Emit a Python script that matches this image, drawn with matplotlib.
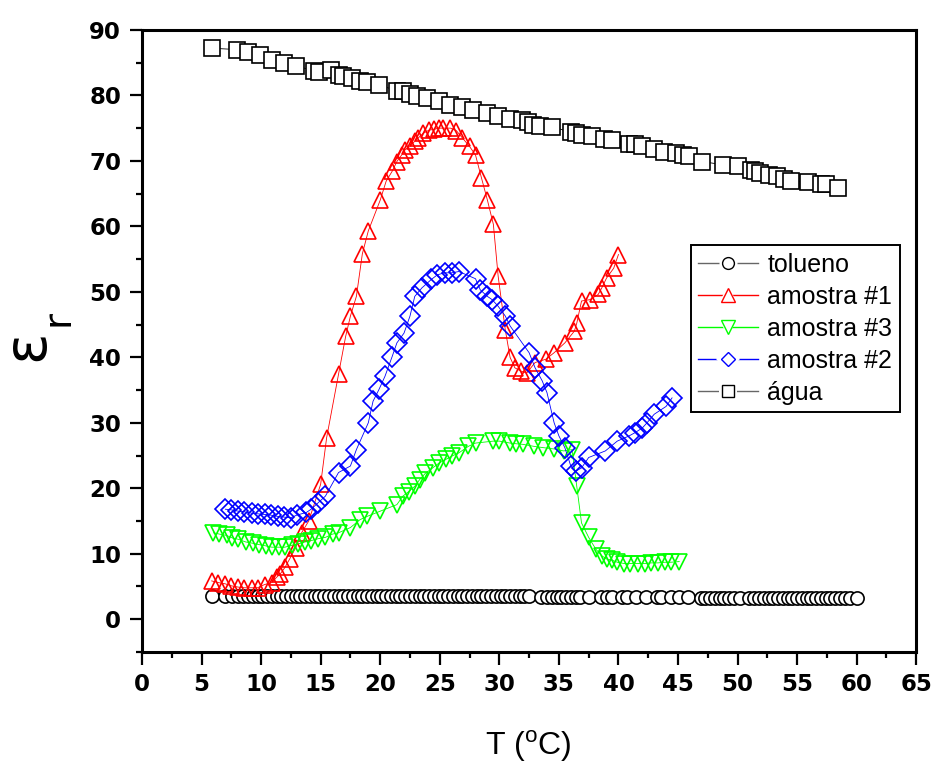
import matplotlib
matplotlib.use("Agg")
import matplotlib.pyplot as plt
from matplotlib.ticker import MultipleLocator
from matplotlib.lines import Line2D
from matplotlib.legend_handler import HandlerTuple

plt.rcParams['font.family'] = ['Liberation Sans', 'DejaVu Sans']
plt.rcParams['mathtext.fontset'] = 'custom'
plt.rcParams['mathtext.rm'] = 'Liberation Sans'

# ---- data ----
agua_T = [5.9, 7.96, 8.9, 9.9, 10.9, 11.9, 12.9, 14.4, 14.9, 15.9, 16.5, 16.9, 17.6, 18.3,
          18.9, 19.9, 21.4, 21.9, 22.5, 23.1, 23.9, 24.9, 25.9, 26.9, 27.8, 29.0, 29.9,
          30.9, 31.9, 32.4, 32.8, 33.4, 34.4, 36.0, 36.4, 36.9, 37.8, 38.8, 39.5, 40.9,
          41.4, 42.0, 43.0, 43.8, 44.8, 45.4, 45.9, 47.0, 48.8, 50.0, 51.1, 51.5, 51.9,
          52.6, 53.3, 53.9, 54.5, 55.9, 57.0, 57.4, 58.4]
agua_e = [87.2, 87.0, 86.7, 86.1, 85.4, 85.0, 84.5, 83.8, 83.5, 83.9, 83.1, 82.9, 82.6, 82.2,
          82.0, 81.6, 80.7, 80.6, 80.2, 79.9, 79.6, 79.1, 78.6, 78.2, 77.8, 77.3, 76.8,
          76.4, 76.2, 76.0, 75.5, 75.3, 75.2, 74.4, 74.3, 74.0, 73.8, 73.4, 73.2, 72.6,
          72.5, 72.3, 71.8, 71.4, 71.2, 70.9, 70.8, 69.9, 69.4, 69.2, 68.6, 68.4, 68.1,
          67.9, 67.7, 67.2, 67.0, 66.7, 66.5, 66.4, 65.9]

tol_T = [5.9, 7.0, 7.6, 8.1, 8.5, 8.9, 9.3, 9.7, 10.1, 10.5, 10.9, 11.3, 11.7, 12.1, 12.5,
         12.9, 13.3, 13.7, 14.1, 14.5, 14.9, 15.3, 15.7, 16.1, 16.5, 16.9, 17.3, 17.7,
         18.1, 18.5, 18.9, 19.3, 19.7, 20.1, 20.5, 20.9, 21.3, 21.7, 22.1, 22.5, 22.9,
         23.3, 23.7, 24.1, 24.5, 24.9, 25.3, 25.7, 26.1, 26.5, 26.9, 27.3, 27.7, 28.1,
         28.5, 28.9, 29.3, 29.7, 30.1, 30.5, 30.9, 31.3, 31.7, 32.1, 32.5, 33.5, 34.0,
         34.4, 34.8, 35.2, 35.6, 36.0, 36.4, 36.8, 37.5, 38.5, 39.0, 39.5, 40.3, 40.7,
         41.5, 42.3, 43.2, 43.6, 44.4, 45.1, 45.8, 46.9, 47.3, 47.7, 48.1, 48.5, 48.9,
         49.3, 49.7, 50.2, 51.0, 51.4, 51.8, 52.2, 52.6, 53.0, 53.4, 53.8, 54.2, 54.6,
         55.0, 55.4, 55.8, 56.2, 56.6, 57.0, 57.4, 57.8, 58.2, 58.6, 59.0, 59.4, 60.0]
tol_e = [3.6, 3.6, 3.5, 3.5, 3.5, 3.5, 3.5, 3.5, 3.5, 3.5, 3.5, 3.5, 3.5, 3.5, 3.5,
         3.5, 3.5, 3.5, 3.5, 3.5, 3.5, 3.5, 3.5, 3.5, 3.5, 3.5, 3.5, 3.5,
         3.5, 3.5, 3.5, 3.5, 3.5, 3.5, 3.5, 3.5, 3.5, 3.5, 3.5, 3.5, 3.5,
         3.5, 3.5, 3.5, 3.5, 3.5, 3.5, 3.5, 3.5, 3.5, 3.5, 3.5, 3.5, 3.5,
         3.5, 3.5, 3.5, 3.5, 3.5, 3.5, 3.5, 3.5, 3.5, 3.5, 3.5, 3.4, 3.4,
         3.4, 3.4, 3.4, 3.4, 3.4, 3.4, 3.4, 3.4, 3.4, 3.4, 3.4, 3.4, 3.4,
         3.4, 3.4, 3.4, 3.4, 3.4, 3.4, 3.4, 3.3, 3.3, 3.3, 3.3, 3.3, 3.3,
         3.3, 3.3, 3.3, 3.3, 3.3, 3.3, 3.3, 3.3, 3.3, 3.3, 3.3, 3.3, 3.3,
         3.3, 3.3, 3.3, 3.3, 3.3, 3.3, 3.3, 3.3, 3.3, 3.3, 3.3, 3.3, 3.3]

am1_T = [5.85, 6.4, 7.0, 7.5, 8.1, 8.6, 9.2, 9.7, 10.3, 10.9, 11.3, 11.6, 12.0, 12.4, 12.9,
         13.4, 14.0, 15.0, 15.5, 16.5, 17.1, 17.5, 18.0, 18.5, 19.0, 20.0, 20.5, 21.0,
         21.4, 21.8, 22.1, 22.5, 22.9, 23.2, 23.6, 24.1, 24.5, 24.9, 25.3, 25.9, 26.4,
         26.9, 27.5, 28.0, 28.5, 29.0, 29.5, 29.9, 30.5, 30.9, 31.3, 31.8, 32.3, 33.0,
         33.9, 34.6, 35.5, 36.3, 36.5, 36.9, 37.6, 38.3, 38.6, 39.0, 39.6, 40.0]
am1_e = [5.85, 5.6, 5.4, 5.1, 4.9, 4.8, 4.8, 4.8, 5.3, 5.6, 6.4, 6.9, 7.9, 9.2, 10.9,
         13.2, 15.0, 20.6, 27.7, 37.4, 43.2, 46.3, 49.3, 55.8, 59.3, 64.0, 66.9, 68.4,
         69.9, 70.9, 71.7, 72.2, 73.0, 73.5, 74.2, 74.7, 74.8, 75.0, 75.0, 75.0, 74.6,
         73.5, 72.2, 70.9, 67.4, 64.0, 60.3, 52.4, 44.2, 40.0, 38.4, 37.9, 37.6, 39.2,
         39.7, 40.7, 42.2, 44.0, 45.2, 48.6, 48.8, 49.6, 50.6, 52.1, 53.6, 55.7]

am3_T = [6.0, 6.5, 7.1, 7.6, 8.1, 8.7, 9.3, 9.8, 10.4, 10.9, 11.5, 12.0, 12.6, 13.1, 13.7,
         14.2, 14.8, 15.4, 16.0, 16.5, 17.5, 18.3, 18.9, 20.0, 21.4, 21.9, 22.4, 22.9,
         23.3, 23.8, 24.4, 24.9, 25.5, 26.0, 26.6, 27.4, 28.0, 29.5, 30.0, 30.9, 31.4,
         32.0, 32.9, 33.7, 34.6, 35.4, 36.1, 36.5, 36.9, 37.5, 38.1, 38.6, 39.0, 39.5,
         39.9, 40.5, 41.0, 41.6, 42.2, 42.7, 43.3, 43.9, 44.4, 45.1]
am3_e = [13.2, 13.0, 12.8, 12.4, 12.2, 11.8, 11.6, 11.4, 11.2, 11.0, 11.0, 11.0, 11.3, 11.5, 11.8,
         12.0, 12.3, 12.5, 13.0, 13.2, 14.0, 15.2, 15.7, 16.5, 17.5, 18.8, 19.5, 20.3,
         21.3, 22.3, 23.1, 23.8, 24.4, 24.9, 25.4, 26.4, 26.9, 27.2, 27.2, 26.9, 26.8,
         26.7, 26.4, 26.2, 26.0, 25.7, 25.9, 20.3, 14.7, 12.5, 10.7, 9.7, 9.2, 9.0,
         8.7, 8.5, 8.5, 8.5, 8.5, 8.6, 8.6, 8.7, 8.7, 8.8]

am2_T = [7.0, 7.5, 8.1, 8.6, 9.2, 9.7, 10.3, 10.8, 11.4, 11.9, 12.5, 13.0, 13.8, 14.2, 14.8,
         15.4, 16.5, 17.5, 18.0, 19.0, 19.4, 19.9, 20.4, 21.0, 21.4, 22.0, 22.5, 22.9,
         23.5, 24.3, 24.8, 25.4, 26.0, 26.6, 28.0, 28.4, 29.0, 29.4, 29.9, 30.5, 30.9,
         32.5, 33.0, 33.6, 34.0, 34.6, 35.0, 35.5, 36.0, 36.4, 36.9, 37.5, 38.9, 39.9,
         40.9, 41.4, 42.0, 42.4, 43.0, 44.0, 44.5]
am2_e = [16.8, 16.7, 16.5, 16.4, 16.2, 16.1, 16.0, 15.9, 15.7, 15.6, 15.5, 15.9, 16.3, 16.8, 17.8,
         18.8, 22.4, 23.4, 25.9, 30.0, 33.3, 35.1, 37.1, 40.1, 42.2, 43.7, 46.3, 49.3,
         50.6, 51.9, 52.6, 52.9, 52.9, 53.1, 52.0, 50.3, 49.3, 48.8, 47.8, 46.3, 44.8,
         40.7, 38.4, 36.4, 34.6, 30.0, 28.0, 26.2, 23.4, 22.6, 23.1, 24.7, 25.7, 27.2,
         28.0, 28.5, 29.2, 30.0, 31.3, 32.5, 33.8]

series_labels = ['tolueno', 'amostra #1', 'amostra #3', 'amostra #2', '\u00e1gua']
x_ticks = list(range(0, 70, 5))
y_ticks = list(range(0, 100, 10))

# ---- figure ----
fig = plt.figure(figsize=(9.34, 7.67), dpi=100)
ax = fig.add_axes([0.152, 0.150, 0.829, 0.811])

lw = 0.6
mew = 1.2
styles = [
    (tol_T, tol_e, 'black', '#666666', 'o', 9.5, 'white', 8.5),
    (am1_T, am1_e, '#ff0000', '#ff0000', '^', 11.5, 'none', 9.5),
    (am3_T, am3_e, '#00ff00', '#00ff00', 'v', 11.5, 'none', 9.5),
    (am2_T, am2_e, '#0000ff', '#0000ff', 'D', 10, 'none', 7.5),
    (agua_T, agua_e, 'black', '#666666', 's', 11.5, 'white', 8),
]
handles = []
for (xs, ys, c, lc, m, ms, fc, lms), lab in zip(styles, series_labels):
    ax.plot(xs, ys, color=c, lw=lw, marker=m, ms=ms, mfc=fc, mec=c, mew=mew)
    bg = Line2D([], [], color=lc, lw=1.0, marker=m, ms=lms + 4.5,
                mfc='white', mec='white', mew=0)
    fg = Line2D([], [], ls='none', marker=m, ms=lms, mfc='white', mec=c, mew=1.0)
    handles.append((bg, fg))

ax.set_xlim(0, 65)
ax.set_ylim(-5, 90)
ax.set_xticks(x_ticks)
ax.set_yticks(y_ticks)
ax.xaxis.set_minor_locator(MultipleLocator(2.5))
ax.yaxis.set_minor_locator(MultipleLocator(5))
ax.tick_params(which='major', direction='out', length=9, width=1.6, labelsize=16.5, pad=6)
ax.tick_params(which='minor', direction='out', length=4.5, width=1.6)
for lab in ax.get_xticklabels() + ax.get_yticklabels():
    lab.set_fontweight('bold')
    lab.set_family('DejaVu Sans')
for s in ax.spines.values():
    s.set_linewidth(2.2)

# axis titles
fig.text(0.566, 0.027, 'T ($^{\\rm o}$C)', ha='center', va='center', fontsize=23)
fig.text(27 / 934, 1 - 345 / 767, '\u03b5', rotation=90, ha='center', va='center',
         fontsize=42, family='DejaVu Sans')
fig.text(58 / 934, 1 - 318 / 767, 'r', rotation=90, ha='center', va='center',
         fontsize=28, family='DejaVu Sans')

leg = ax.legend(handles=handles, labels=series_labels, loc='upper left',
                handler_map={tuple: HandlerTuple(ndivide=1)},
                bbox_to_anchor=(0.709, 0.654), borderaxespad=0, fontsize=18,
                handlelength=2.4, handletextpad=0.35, borderpad=0.3,
                labelspacing=0.32, fancybox=False, edgecolor='black', framealpha=1)
leg.get_frame().set_linewidth(1.4)

fig.savefig('out.png', dpi=100)
